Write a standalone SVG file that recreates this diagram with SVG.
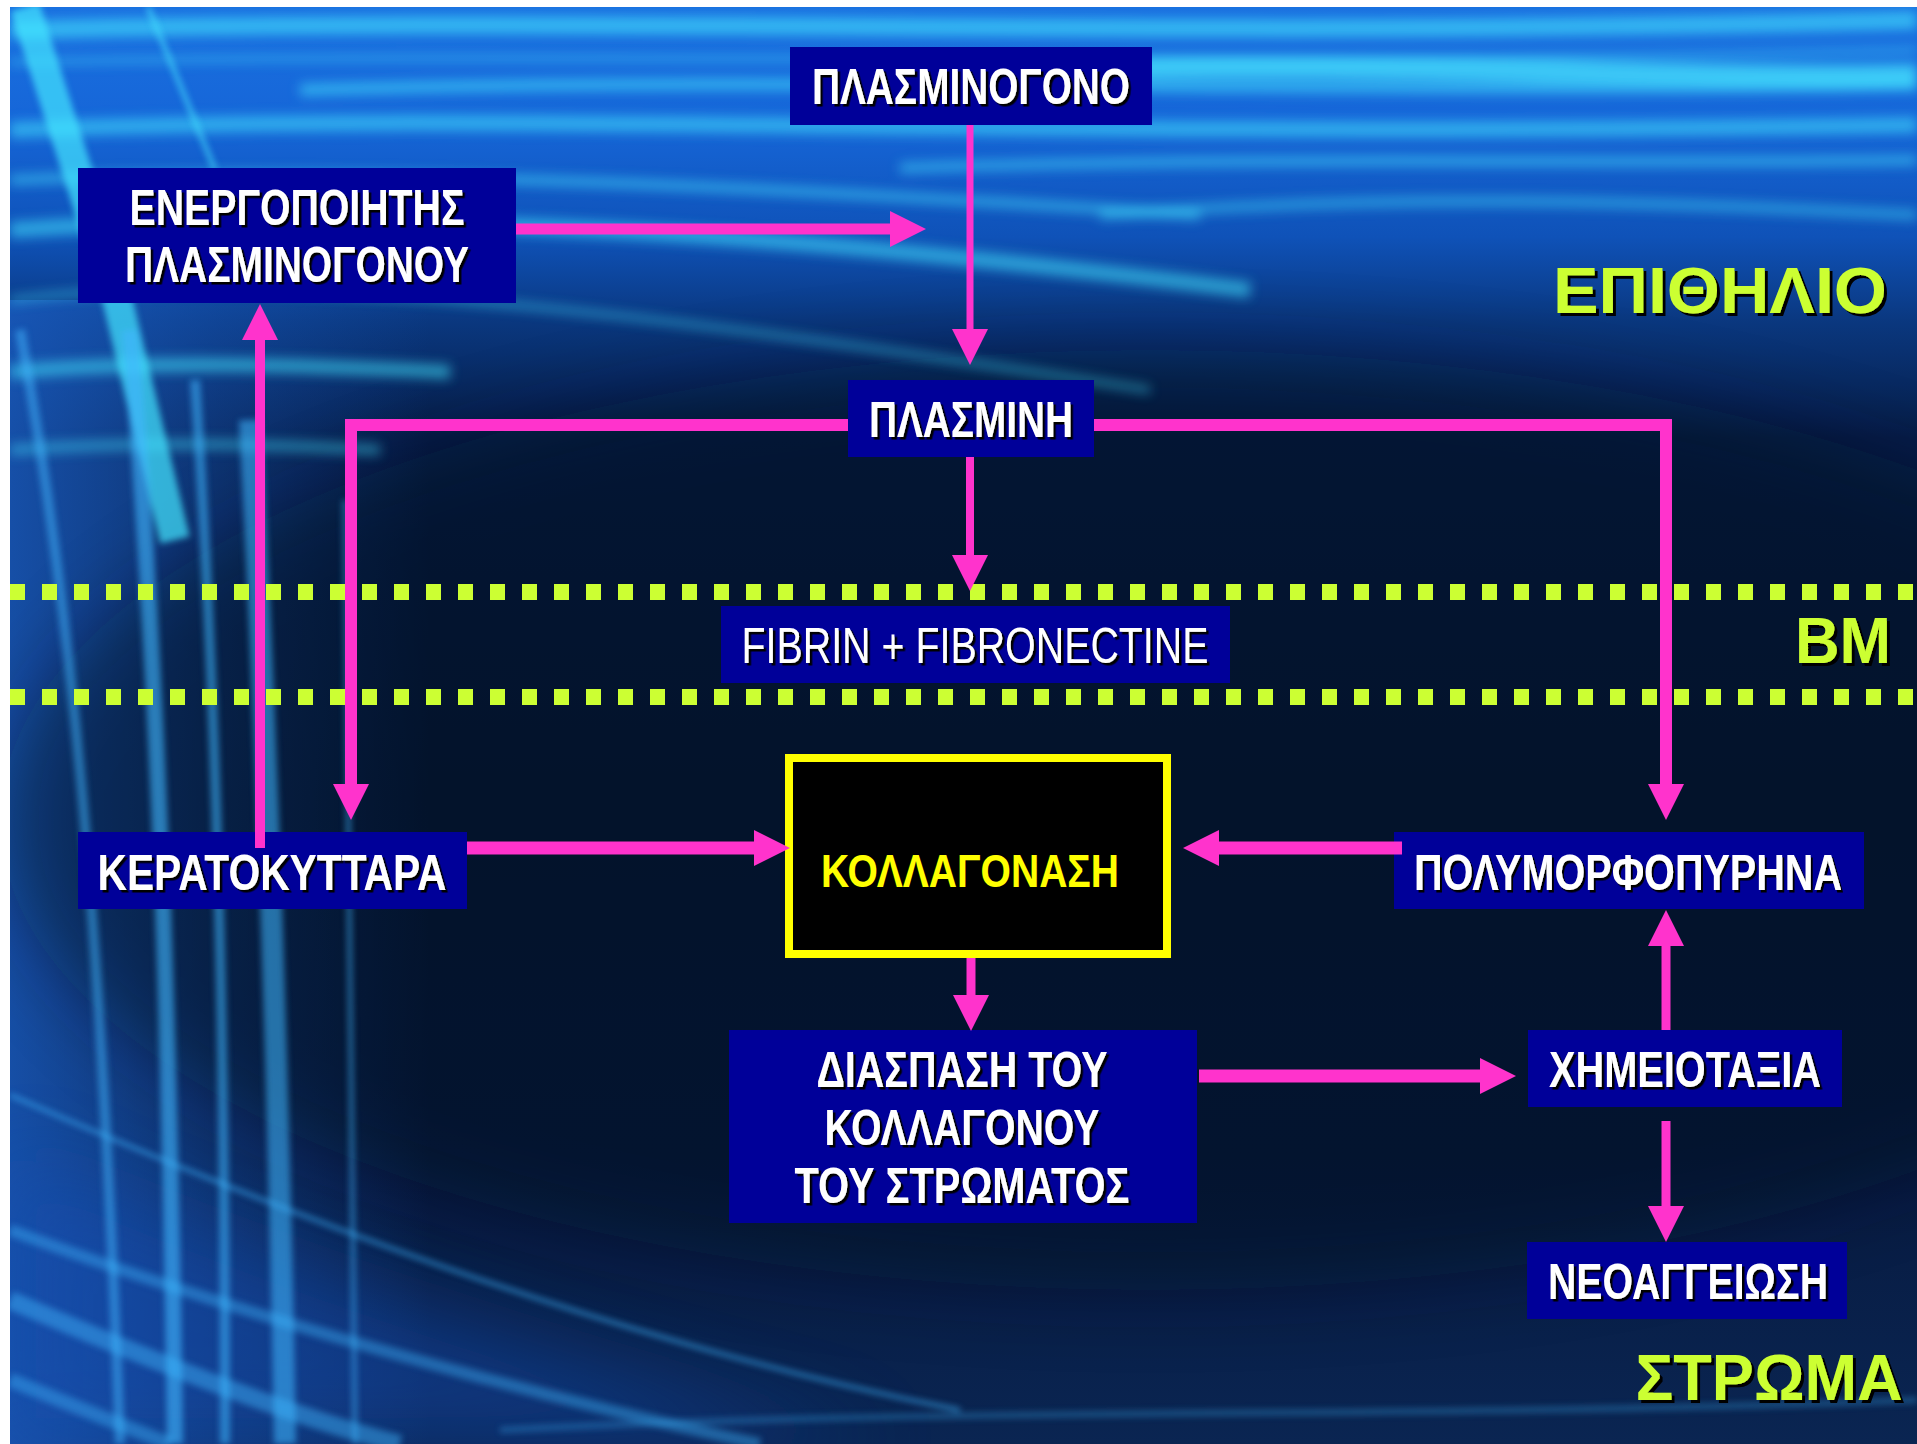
<svg xmlns="http://www.w3.org/2000/svg" width="1917" height="1444" viewBox="0 0 1917 1444">
<defs>
<style>
.box{fill:#000099}
.lbl{font-family:"Liberation Sans",Arial,sans-serif;font-weight:bold;font-size:50px;fill:#ffffff;filter:url(#sh);text-anchor:middle}
.thin{font-weight:normal}
.region{font-family:"Liberation Sans",Arial,sans-serif;font-weight:bold;font-size:64px;fill:#ccff33;filter:url(#sh3);text-anchor:middle}
.con{fill:none;stroke:#ff33cc;stroke-linejoin:miter}
.dots{stroke:#ccff33;stroke-width:16;stroke-dasharray:15 17}
.streak{fill:none;stroke:#45e6ff}
.vl{fill:none;stroke:#3fb8ff}
</style>
<clipPath id="clip"><rect x="10" y="7" width="1907" height="1437"/></clipPath>
<filter id="sh" x="-5%" y="-20%" width="110%" height="140%"><feDropShadow dx="2.5" dy="2.5" stdDeviation="0.4" flood-color="#000000" flood-opacity="1"/></filter>
<filter id="sh3" x="-5%" y="-20%" width="110%" height="140%"><feDropShadow dx="3" dy="3" stdDeviation="0.6" flood-color="#000000" flood-opacity="1"/></filter>
<filter id="blur" x="-20%" y="-50%" width="140%" height="200%"><feGaussianBlur stdDeviation="6"/></filter>
<filter id="blur2" x="-20%" y="-20%" width="140%" height="140%"><feGaussianBlur stdDeviation="3"/></filter>
<filter id="blur3" x="-30%" y="-30%" width="160%" height="160%"><feGaussianBlur stdDeviation="40"/></filter>
<linearGradient id="bg" x1="0" y1="0" x2="0" y2="1">
<stop offset="0" stop-color="#1a70e0"/>
<stop offset="0.08" stop-color="#1666d8"/>
<stop offset="0.16" stop-color="#0f52b8"/>
<stop offset="0.22" stop-color="#0a377e"/>
<stop offset="0.3" stop-color="#061d48"/>
<stop offset="0.55" stop-color="#061838"/>
<stop offset="0.8" stop-color="#071a40"/>
<stop offset="1" stop-color="#0a2552"/>
</linearGradient>
<linearGradient id="lft" x1="0" y1="0" x2="1" y2="0">
<stop offset="0" stop-color="#1a5cc0" stop-opacity="0.8"/>
<stop offset="0.5" stop-color="#1a5cc0" stop-opacity="0.35"/>
<stop offset="1" stop-color="#1a5cc0" stop-opacity="0"/>
</linearGradient>
<marker id="ah" markerUnits="userSpaceOnUse" markerWidth="36" markerHeight="36" viewBox="0 0 36 36" refX="0" refY="18" orient="auto">
<path d="M0,0 L36,18 L0,36 Z" fill="#ff33cc"/>
</marker>
</defs>

<g id="background">
<rect x="0" y="0" width="1917" height="1444" fill="#ffffff"/>
<g clip-path="url(#clip)">
<rect x="10" y="7" width="1907" height="1437" fill="url(#bg)"/>
<rect x="10" y="300" width="420" height="1144" fill="url(#lft)"/>
<path d="M10,1150 C300,1280 700,1400 900,1444 L10,1444 Z" fill="#1550b8" opacity="0.45" filter="url(#blur3)"/>
<ellipse cx="1150" cy="820" rx="1150" ry="470" fill="#020a1c" opacity="0.45" filter="url(#blur3)"/>
<g filter="url(#blur)">
<path class="streak" d="M10,30 C600,15 1200,40 1917,20" stroke="#2a8cf0" stroke-width="18" opacity="0.6"/>
<path class="streak" d="M10,62 C600,50 1200,70 1917,50" stroke-width="6" opacity="0.45"/>
<path class="streak" d="M300,90 C800,75 1300,95 1917,85" stroke-width="12" opacity="0.55"/>
<path class="streak" d="M10,130 C500,110 1000,140 1917,125" stroke-width="16" opacity="0.55"/>
<path class="streak" d="M900,168 C1300,155 1600,165 1917,160" stroke-width="10" opacity="0.5"/>
<path class="streak" d="M10,180 C400,165 800,190 1200,215" stroke-width="10" opacity="0.5"/>
<path class="streak" d="M10,230 C400,205 800,235 1250,290" stroke-width="16" opacity="0.55"/>
<path class="streak" d="M1100,215 C1450,190 1700,205 1917,215" stroke-width="10" opacity="0.45"/>
<path class="streak" d="M10,300 C300,265 700,320 1150,390" stroke-width="7" opacity="0.45"/>
<path class="streak" d="M1000,70 C1400,60 1700,80 1917,75" stroke-width="22" opacity="0.75"/>
<path class="streak" d="M10,372 C150,360 300,365 450,372" stroke-width="14" opacity="0.55"/>
<path class="streak" d="M10,450 C150,440 280,445 380,450" stroke-width="10" opacity="0.45"/>
</g>
<g filter="url(#blur2)">
<path class="streak" d="M25,7 L115,290 L175,540" stroke="#70f4ff" stroke-width="30" opacity="0.7"/>
<path class="streak" d="M148,7 L215,170" stroke="#8ff" stroke-width="5" opacity="0.6"/>
<path class="vl" d="M20,330 C70,600 100,900 120,1444" stroke-width="10" opacity="0.5"/>
<path class="vl" d="M130,330 C160,700 170,1050 175,1444" stroke-width="16" opacity="0.6"/>
<path class="vl" d="M195,380 C220,750 225,1100 225,1444" stroke-width="10" opacity="0.55"/>
<path class="vl" d="M250,420 C270,800 280,1150 285,1444" stroke-width="22" opacity="0.55"/>
<path class="vl" d="M345,500 C352,900 355,1200 355,1444" stroke-width="5" opacity="0.5"/>
<path class="vl" d="M10,1095 C250,1200 600,1340 960,1410" stroke="#4aa8ff" stroke-width="4" opacity="0.6"/>
<path class="vl" d="M10,1230 C250,1320 550,1400 760,1444" stroke-width="12" opacity="0.4"/>
<path class="vl" d="M10,1300 C150,1360 300,1420 400,1444" stroke-width="18" opacity="0.45"/>
<path class="vl" d="M10,1380 C60,1400 120,1425 170,1444" stroke-width="14" opacity="0.4"/>
<path class="vl" d="M500,1430 C1000,1405 1400,1420 1917,1400" stroke-width="6" opacity="0.3"/>
</g>
</g>
</g>

<g id="layers">
<line class="dots" x1="10" y1="592" x2="1917" y2="592"/>
<line class="dots" x1="10" y1="697" x2="1917" y2="697"/>
<text class="region" x="1720" y="313" textLength="334" lengthAdjust="spacingAndGlyphs">ΕΠΙΘΗΛΙΟ</text>
<text class="region" x="1843" y="663" textLength="96" lengthAdjust="spacingAndGlyphs">BM</text>
<text class="region" x="1769" y="1400" textLength="267" lengthAdjust="spacingAndGlyphs">ΣΤΡΩΜΑ</text>
</g>

<g id="n-plasminogono">
<rect class="box" x="790" y="47" width="362" height="78"/>
<text class="lbl" x="971" y="104" textLength="318" lengthAdjust="spacingAndGlyphs">ΠΛΑΣΜΙΝΟΓΟΝΟ</text>
</g>
<g id="n-energopoiitis">
<rect class="box" x="78" y="168" width="438" height="135"/>
<text class="lbl" x="297" y="225" textLength="335" lengthAdjust="spacingAndGlyphs">ΕΝΕΡΓΟΠΟΙΗΤΗΣ</text>
<text class="lbl" x="297" y="282" textLength="344" lengthAdjust="spacingAndGlyphs">ΠΛΑΣΜΙΝΟΓΟΝΟΥ</text>
</g>
<g id="n-plasmini">
<rect class="box" x="848" y="380" width="246" height="77"/>
<text class="lbl" x="971" y="437" textLength="204" lengthAdjust="spacingAndGlyphs">ΠΛΑΣΜΙΝΗ</text>
</g>
<g id="n-fibrin">
<rect class="box" x="721" y="606" width="509" height="77"/>
<text class="lbl thin" x="975" y="663" textLength="467" lengthAdjust="spacingAndGlyphs">FIBRIN + FIBRONECTINE</text>
</g>
<g id="n-keratokyttara">
<rect class="box" x="78" y="832" width="389" height="77"/>
<text class="lbl" x="272" y="890" textLength="349" lengthAdjust="spacingAndGlyphs">ΚΕΡΑΤΟΚΥΤΤΑΡΑ</text>
</g>
<g id="n-kollagonasi">
<rect x="789" y="758" width="378" height="196" fill="#000000" stroke="#ffff00" stroke-width="8"/>
<text x="970" y="887" text-anchor="middle" textLength="298" lengthAdjust="spacingAndGlyphs" font-family="'Liberation Sans',Arial,sans-serif" font-weight="bold" font-size="47" fill="#ffff00">ΚΟΛΛΑΓΟΝΑΣΗ</text>
</g>
<g id="n-polymorfopyrina">
<rect class="box" x="1394" y="832" width="470" height="77"/>
<text class="lbl" transform="translate(1628,890) scale(0.8,1)" x="0" y="0" textLength="535" lengthAdjust="spacingAndGlyphs">ΠΟΛΥΜΟΡΦΟΠΥΡΗΝΑ</text>
</g>
<g id="n-diaspasi">
<rect class="box" x="729" y="1030" width="468" height="193"/>
<text class="lbl" x="962" y="1087" textLength="291" lengthAdjust="spacingAndGlyphs">ΔΙΑΣΠΑΣΗ ΤΟΥ</text>
<text class="lbl" x="962" y="1145" textLength="275" lengthAdjust="spacingAndGlyphs">ΚΟΛΛΑΓΟΝΟΥ</text>
<text class="lbl" x="962" y="1203" textLength="335" lengthAdjust="spacingAndGlyphs">ΤΟΥ ΣΤΡΩΜΑΤΟΣ</text>
</g>
<g id="n-chimeiotaxia">
<rect class="box" x="1528" y="1030" width="314" height="77"/>
<text class="lbl" x="1685" y="1087" textLength="272" lengthAdjust="spacingAndGlyphs">ΧΗΜΕΙΟΤΑΞΙΑ</text>
</g>
<g id="n-neoaggeiosi">
<rect class="box" x="1527" y="1242" width="320" height="77"/>
<text class="lbl" x="1688" y="1299" textLength="280" lengthAdjust="spacingAndGlyphs">ΝΕΟΑΓΓΕΙΩΣΗ</text>
</g>

<g id="connectors">
<path class="con" d="M516,229 H890" stroke-width="11" marker-end="url(#ah)"/>
<path class="con" d="M970,125 V329" stroke-width="7" marker-end="url(#ah)"/>
<path class="con" d="M970,457 V555" stroke-width="8" marker-end="url(#ah)"/>
<path class="con" d="M848,425 H351 V784" stroke-width="12" marker-end="url(#ah)"/>
<path class="con" d="M1094,425 H1666 V784" stroke-width="12" marker-end="url(#ah)"/>
<path class="con" d="M260,848 V340" stroke-width="10" marker-end="url(#ah)"/>
<path class="con" d="M467,848 H754" stroke-width="13" marker-end="url(#ah)"/>
<path class="con" d="M1402,848 H1219" stroke-width="13" marker-end="url(#ah)"/>
<path class="con" d="M971,958 V995" stroke-width="9" marker-end="url(#ah)"/>
<path class="con" d="M1199,1076 H1480" stroke-width="13" marker-end="url(#ah)"/>
<path class="con" d="M1666,1030 V946" stroke-width="9" marker-end="url(#ah)"/>
<path class="con" d="M1666,1121 V1206" stroke-width="9" marker-end="url(#ah)"/>
</g>
</svg>
